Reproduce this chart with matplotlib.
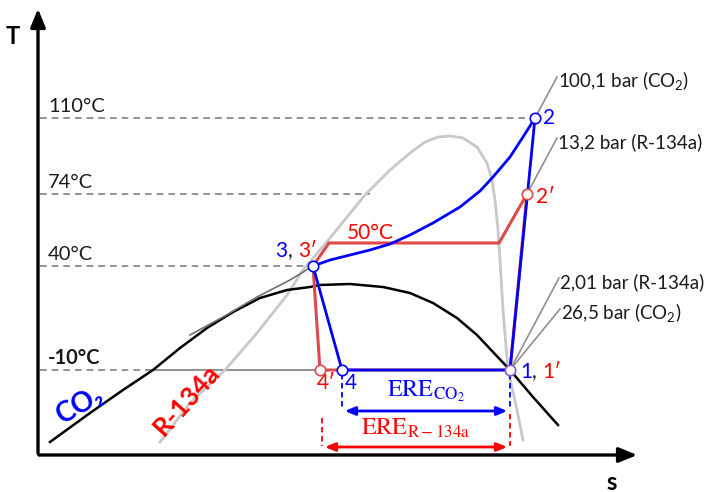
import matplotlib.pyplot as plt

plt.rcParams['font.family'] = ['Lato', 'DejaVu Sans']
plt.rcParams['mathtext.fontset'] = 'custom'
plt.rcParams['mathtext.rm'] = 'Lato'
plt.rcParams['mathtext.bf'] = 'Lato:bold'

# schematic T-s diagram, coordinates (x right, y down)
co2_dome_x = [50, 90, 123, 153, 180, 207, 233, 260, 287, 310, 320, 350, 383, 410, 433, 457,
              477, 493, 510, 533, 558]
co2_dome_y = [442, 413, 390, 370, 348, 328, 312, 298, 290, 287, 285, 284, 287, 293, 303, 318,
              335, 352, 370, 397, 425]

r134a_dome_x = [160, 190, 225, 257, 287, 303, 330, 365, 390, 410, 425, 438, 450, 463, 477, 487,
                492, 495, 498, 500, 503, 508, 517, 523]
r134a_dome_y = [442, 403, 370, 333, 295, 270, 238, 195, 170, 153, 142, 137, 136, 138, 147, 163,
                180, 200, 230, 260, 310, 370, 410, 440]

co2_isobar_x = [190, 223, 257, 290, 313]
co2_isobar_y = [335, 317, 297, 280, 266]

# CO2 cycle 1-2-3-4
co2_gc_x = [535, 523, 510, 493, 480, 460, 433, 410, 390, 370, 350, 330, 313]
co2_gc_y = [118, 137, 157, 177, 191, 207, 223, 235, 244, 250, 255, 260, 266]
co2_pts = {'1': (510, 370), '2': (535, 118), '3': (313, 266), '4': (342, 370)}

# R-134a cycle 1'-2'-3'-4'
r134a_x = [510, 527, 499, 329, 313, 320, 510]
r134a_y = [370, 194, 243, 243, 266, 370, 370]
r134a_pts = {"2'": (527, 194), "4'": (320, 370)}

temp_labels = ['110°C', '74°C', '40°C', '-10°C']
temp_y = [118, 194, 266, 370]
temp_end = [535, 370, 313, 155]

isobar_labels = ['100,1 bar (CO$_2$)', '13,2 bar (R-134a)', '2,01 bar (R-134a)', '26,5 bar (CO$_2$)']
isobar_start = [(535, 118), (527, 194), (510, 370), (510, 370)]
isobar_end = [(557, 77), (557, 138), (559, 278), (560, 309)]

blue = '#0000ff'
red = '#ff0000'
red_line = '#dd4848'
ink = '#1a1a1a'

fig = plt.figure(figsize=(7.09, 4.92), dpi=100)
ax = fig.add_axes([0, 0, 1, 1])
ax.set_xlim(0, 709)
ax.set_ylim(492, 0)
ax.axis('off')

# axes arrows
ax.annotate('', xy=(38, 6), xytext=(38, 456),
            arrowprops=dict(arrowstyle='-|>,head_width=0.45,head_length=1.1', lw=2.4, color='black'))
ax.annotate('', xy=(640, 455), xytext=(36, 455),
            arrowprops=dict(arrowstyle='-|>,head_width=0.45,head_length=1.1', lw=2.4, color='black'))
ax.text(13, 36, 'T', fontsize=17, fontweight='bold', ha='center', va='center')
ax.text(612, 482, 's', fontsize=17, fontweight='bold', ha='center', va='center')

# temperature levels
for lab, y, xe in zip(temp_labels, temp_y, temp_end):
    ax.plot([40, xe], [y, y], ls=(0, (4, 3)), color='#808080', lw=1.2)
    bold = 'bold' if lab.startswith('-') else 'normal'
    ax.text(48, y - 12, lab, fontsize=14.5, fontweight=bold, ha='left', va='center', color=ink)
ax.plot([155, 510], [370, 370], color='#808080', lw=1.2)

# domes and isobars
ax.plot(r134a_dome_x, r134a_dome_y, color='#c8c8c8', lw=2)
ax.plot(co2_dome_x, co2_dome_y, color='black', lw=1.8)
ax.plot(co2_isobar_x, co2_isobar_y, color='#707070', lw=1.2)
for (x0, y0), (x1, y1), lab in zip(isobar_start, isobar_end, isobar_labels):
    ax.plot([x0, x1], [y0, y1], color='#909090', lw=1.2)
    ax.text(x1 + 1, y1 + 4, lab, fontsize=13.5, ha='left', va='center', color=ink)

# R-134a cycle
ax.plot(r134a_x, r134a_y, color=red_line, lw=2.2, solid_joinstyle='miter')

# CO2 cycle
p1, p2, p3, p4 = co2_pts['1'], co2_pts['2'], co2_pts['3'], co2_pts['4']
ax.plot([p1[0], p2[0]], [p1[1], p2[1]], color=blue, lw=2)
ax.plot(co2_gc_x, co2_gc_y, color=blue, lw=2)
ax.plot([p3[0], p4[0], p1[0]], [p3[1], p4[1], p1[1]], color=blue, lw=2)

# state points
for (x, y), ec in [(p2, blue), (r134a_pts["2'"], red_line), (p3, blue), (p4, blue),
                   (r134a_pts["4'"], red_line), (p1, '#8060c0')]:
    ax.plot(x, y, 'o', ms=7.5, mfc='white', mec=ec, mew=1.2, zorder=5)

fs = 15
ax.text(543, 118, '2', fontsize=fs, color=blue, va='center')
ax.text(536, 197, '2′', fontsize=fs, color=red, va='center')
ax.text(275, 251, '3', fontsize=fs, color=blue, va='center')
ax.text(288, 251, ',', fontsize=fs, color=ink, va='center')
ax.text(298, 251, '3′', fontsize=fs, color=red, va='center')
ax.text(317, 383, '4′', fontsize=fs, color=red, va='center')
ax.text(345, 383, '4', fontsize=fs, color=blue, va='center')
ax.text(520, 372, '1', fontsize=fs, color=blue, va='center')
ax.text(532, 372, ',', fontsize=fs, color=ink, va='center')
ax.text(542, 372, '1′', fontsize=fs, color=red, va='center')
ax.text(370, 233, '50°C', fontsize=fs, color=red, ha='center', va='center')

ax.text(80, 405, 'CO₂', fontsize=20, fontweight='bold', color=blue, rotation=30,
        ha='center', va='center')
ax.text(187, 400, 'R-134a', fontsize=19, fontweight='bold', color=red, rotation=48,
        ha='center', va='center')

# ERE arrows
ere_blue = (342, 510)
ere_red = (322, 510)
for x in ere_blue:
    ax.plot([x, x], [374, 410], ls=(0, (3, 2)), color=blue, lw=1.3)
ax.annotate('', xy=(ere_blue[1], 411), xytext=(ere_blue[0], 411),
            arrowprops=dict(arrowstyle='<|-|>,head_width=0.25,head_length=0.6', lw=2, color=blue))
ax.text(sum(ere_blue) / 2, 391, r'$\mathrm{ERE}_{\mathrm{CO_2}}$', fontsize=17.5, color=blue,
        ha='center', va='center', math_fontfamily='stix')
ax.plot([ere_red[0], ere_red[0]], [418, 446], ls=(0, (3, 2)), color=red, lw=1.3)
ax.plot([ere_red[1], ere_red[1]], [414, 446], ls=(0, (3, 2)), color=red, lw=1.3)
ax.annotate('', xy=(ere_red[1], 447), xytext=(ere_red[0], 447),
            arrowprops=dict(arrowstyle='<|-|>,head_width=0.25,head_length=0.6', lw=2, color=red))
ax.text(sum(ere_red) / 2, 428, r'$\mathrm{ERE}_{\mathrm{R-134a}}$', fontsize=17.5, color=red,
        ha='center', va='center', math_fontfamily='stix')

fig.savefig('out.png', dpi=100)
